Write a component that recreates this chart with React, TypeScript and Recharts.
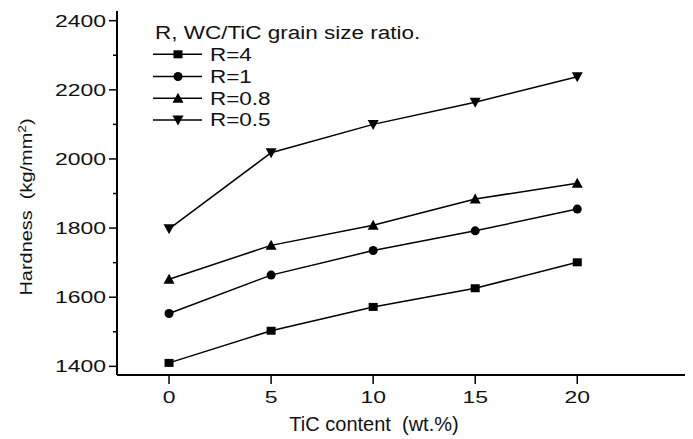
import React from 'react';
import { LineChart, Line, XAxis, YAxis, Legend, Label } from 'recharts';

// ---- data ----
const ticContent = [0, 5, 10, 15, 20];
const hardnessR4 = [1410, 1503, 1572, 1626, 1701];
const hardnessR1 = [1553, 1664, 1735, 1792, 1855];
const hardnessR08 = [1652, 1750, 1808, 1884, 1930];
const hardnessR05 = [1798, 2018, 2100, 2164, 2238];

const seriesNames = ['R=4', 'R=1', 'R=0.8', 'R=0.5'];
const seriesKeys = ['r4', 'r1', 'r08', 'r05'];
const seriesShapes = ['square', 'circle', 'up', 'down'];

const xTicks = [0, 5, 10, 15, 20];
const yTicks = [1400, 1500, 1600, 1700, 1800, 1900, 2000, 2100, 2200, 2300, 2400];
const xDomain = [-2.55, 25.67];
const yDomain = [1375, 2428];

const legendTitle = 'R, WC/TiC grain size ratio.';
const xTitle = 'TiC content  (wt.%)';
const yTitleMain = 'Hardness  (kg/mm';
const yTitleSup = '2';

const data = ticContent.map((t, i) => ({
  tic: t,
  r4: hardnessR4[i],
  r1: hardnessR1[i],
  r08: hardnessR08[i],
  r05: hardnessR05[i],
}));

const FONT = '"Liberation Sans", Arial, Helvetica, sans-serif';

function Marker({ shape, cx, cy, size = 9 }: any) {
  const h = size / 2;
  if (cx == null || cy == null) return null;
  switch (shape) {
    case 'square':
      return <rect x={cx - h} y={cy - h + 0.5} width={size} height={size - 1} fill="#000" />;
    case 'circle':
      return <circle cx={cx} cy={cy} r={h} fill="#000" />;
    case 'up':
      return (
        <polygon
          points={`${cx},${cy - h - 1} ${cx + h + 1},${cy + h} ${cx - h - 1},${cy + h}`}
          fill="#000"
        />
      );
    case 'down':
    default:
      return (
        <polygon
          points={`${cx - h - 1},${cy - h} ${cx + h + 1},${cy - h} ${cx},${cy + h + 1}`}
          fill="#000"
        />
      );
  }
}

const makeDot = (shape: string) => (p: any) => (
  <Marker key={`${shape}-${p.index}`} shape={shape} cx={p.cx} cy={p.cy} />
);

const YTick = (props: any) => {
  const { x, y, payload } = props;
  const v = payload.value;
  const major = v % 200 === 0;
  return (
    <g>
      <line x1={x - (major ? 8 : 4)} x2={x} y1={y} y2={y} stroke="#000" strokeWidth={1.5} />
      {major && (
        <g transform={`translate(${x - 11},${y}) scale(1.35,1)`}>
          <text textAnchor="end" dy="0.36em" fontSize={17} fontFamily={FONT} fill="#111">
            {v}
          </text>
        </g>
      )}
    </g>
  );
};

const XTick = (props: any) => {
  const { x, y, payload } = props;
  return (
    <g>
      <line x1={x} x2={x} y1={y} y2={y + 9} stroke="#000" strokeWidth={1.5} />
      <g transform={`translate(${x},${y + 28}) scale(1.35,1)`}>
        <text textAnchor="middle" fontSize={17} fontFamily={FONT} fill="#111">
          {payload.value}
        </text>
      </g>
    </g>
  );
};

const renderLegend = () => {
  const rowY = [34.3, 56.5, 78.3, 100];
  return (
    <svg width={330} height={115} style={{ display: 'block' }}>
      <g transform="translate(2,12.5) scale(1.25,1)">
        <text dy="0.36em" fontSize={18} fontFamily={FONT} fill="#111">
          {legendTitle}
        </text>
      </g>
      {seriesNames.map((name, i) => (
        <g key={name}>
          <line x1={0} x2={49} y1={rowY[i]} y2={rowY[i]} stroke="#000" strokeWidth={1.5} />
          <Marker shape={seriesShapes[i]} cx={25} cy={rowY[i]} />
          <g transform={`translate(57,${rowY[i]}) scale(1.25,1)`}>
            <text dy="0.36em" fontSize={18} fontFamily={FONT} fill="#111">
              {name}
            </text>
          </g>
        </g>
      ))}
    </svg>
  );
};

const XTitle = (props: any) => {
  const vb = props.viewBox || { x: 109, y: 367 };
  return (
    <text
      x={vb.x + 257}
      y={vb.y + 56}
      textAnchor="middle"
      fontSize={20}
      fontFamily={FONT}
      fill="#111"
      style={{ whiteSpace: 'pre' }}
    >
      {xTitle}
    </text>
  );
};

const YTitle = (props: any) => {
  const vb = props.viewBox || { x: 0, y: 3 };
  const cx = vb.x + 18;
  const cy = vb.y + 196;
  return (
    <g transform={`translate(${cx},${cy}) rotate(-90) scale(1.05,0.9)`}>
      <text
        textAnchor="middle"
        dy="0.36em"
        fontSize={19}
        fontFamily={FONT}
        fill="#111"
        style={{ whiteSpace: 'pre' }}
      >
        {yTitleMain}
        <tspan dy={-7} fontSize={13}>
          {yTitleSup}
        </tspan>
        <tspan dy={7}>)</tspan>
      </text>
    </g>
  );
};

export default function App() {
  return (
    <div style={{ width: 685, height: 431, background: '#fff' }}>
      <LineChart
        width={685}
        height={431}
        data={data}
        margin={{ top: 3, right: 0, bottom: 0, left: 0 }}
      >
        <XAxis
          dataKey="tic"
          type="number"
          domain={xDomain}
          ticks={xTicks}
          interval={0}
          allowDataOverflow
          height={64}
          tickSize={0}
          tickMargin={0}
          tickLine={false}
          tick={<XTick />}
          axisLine={{ stroke: '#000', strokeWidth: 2 }}
        >
          <Label content={<XTitle />} />
        </XAxis>
        <XAxis
          xAxisId="top"
          orientation="top"
          type="number"
          domain={xDomain}
          allowDataOverflow
          height={0}
          tick={false}
          tickLine={false}
          axisLine={{ stroke: '#000', strokeWidth: 2 }}
        />
        <YAxis
          type="number"
          domain={yDomain}
          ticks={yTicks}
          interval={0}
          allowDataOverflow
          width={109}
          tickSize={0}
          tickMargin={0}
          tickLine={false}
          tick={<YTick />}
          axisLine={{ stroke: '#000', strokeWidth: 2 }}
        >
          <Label content={<YTitle />} />
        </YAxis>
        <Legend
          layout="vertical"
          align="center"
          verticalAlign="middle"
          content={renderLegend}
          wrapperStyle={{ left: 145, top: 12, width: 330, height: 115 }}
        />
        {seriesKeys.map((k, i) => (
          <Line
            key={k}
            dataKey={k}
            name={seriesNames[i]}
            stroke="#000"
            strokeWidth={1.5}
            dot={makeDot(seriesShapes[i])}
            activeDot={false}
            isAnimationActive={false}
          />
        ))}
      </LineChart>
    </div>
  );
}
